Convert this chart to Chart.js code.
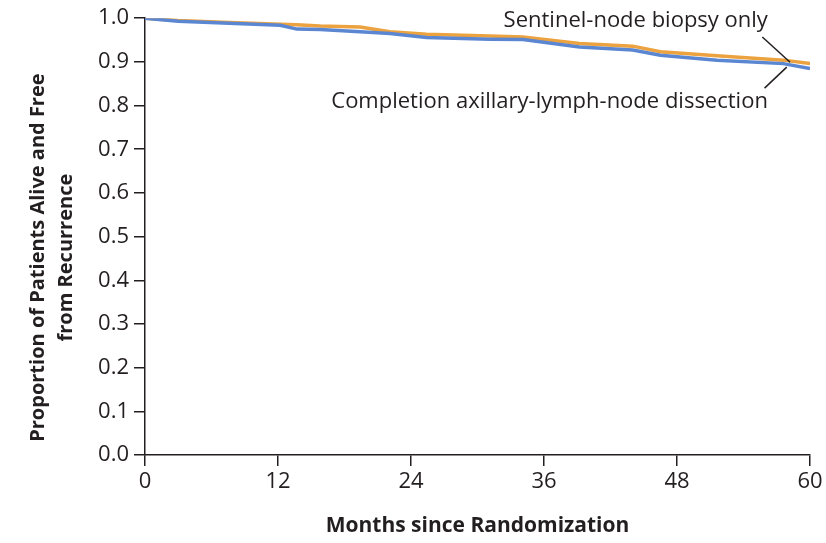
<!DOCTYPE html>
<html>
<head>
<meta charset="utf-8">
<script src="https://cdn.jsdelivr.net/npm/chart.js@4.4.1/dist/chart.umd.min.js"></script>
<style>
html,body{margin:0;padding:0;background:#fff;}
#wrap{width:826px;height:543px;}
</style>
</head>
<body>
<div id="wrap"><canvas id="c" width="826" height="543"></canvas></div>
<script>
// Months since randomization
const months = [0, 3, 7, 12.2, 13.7, 15.8, 19.4, 22.1, 25.4, 31.1, 34.1, 39.2, 44.0, 46.5, 51.6, 57.6, 60];
// Sentinel-node biopsy only
const sentinelOnly = [1.0, 0.995, 0.991, 0.986, 0.985, 0.982, 0.980, 0.969, 0.963, 0.959, 0.957, 0.942, 0.936, 0.923, 0.914, 0.904, 0.896];
// Completion axillary-lymph-node dissection
const dissection = [1.0, 0.993, 0.989, 0.984, 0.975, 0.974, 0.969, 0.965, 0.956, 0.952, 0.951, 0.934, 0.927, 0.915, 0.904, 0.896, 0.885];

const xTicks = [0, 12, 24, 36, 48, 60];
const yTicks = [0.0, 0.1, 0.2, 0.3, 0.4, 0.5, 0.6, 0.7, 0.8, 0.9, 1.0];

const seriesNames = ['Completion axillary-lymph-node dissection', 'Sentinel-node biopsy only'];
const xTitle = 'Months since Randomization';
const yTitleLines = ['Proportion of Patients Alive and Free', 'from Recurrence'];
// annotation labels (text right-aligned at month/proportion)
const labelTexts = ['Sentinel-node biopsy only', 'Completion axillary-lymph-node dissection'];
const labelMonths = [56.2, 56.2];
const labelValues = [0.995, 0.808];
// leader lines: from (month, value) to (month, value)
const leaderFromMonths = [55.7, 55.9];
const leaderFromValues = [0.957, 0.840];
const leaderToMonths = [58.2, 57.9];
const leaderToValues = [0.899, 0.888];

const ink = '#231f20';

const annotationPlugin = {
  id: 'annot',
  afterDatasetsDraw(chart) {
    const ctx = chart.ctx, xs = chart.scales.x, ys = chart.scales.y, ca = chart.chartArea;
    ctx.save();
    ctx.font = '22px "Open Sans"';
    ctx.fillStyle = ink;
    ctx.textAlign = 'right';
    ctx.textBaseline = 'middle';
    for (let i = 0; i < labelTexts.length; i++) {
      ctx.fillText(labelTexts[i], xs.getPixelForValue(labelMonths[i]), ys.getPixelForValue(labelValues[i]));
    }
    ctx.strokeStyle = ink;
    ctx.lineWidth = 1.5;
    for (let i = 0; i < leaderFromMonths.length; i++) {
      ctx.beginPath();
      ctx.moveTo(xs.getPixelForValue(leaderFromMonths[i]), ys.getPixelForValue(leaderFromValues[i]));
      ctx.lineTo(xs.getPixelForValue(leaderToMonths[i]), ys.getPixelForValue(leaderToValues[i]));
      ctx.stroke();
    }
    // y-axis title (two lines, rotated)
    const cy = (ca.top + ca.bottom) / 2 + 21;
    ctx.font = 'bold 20px "Open Sans"';
    ctx.textAlign = 'center';
    ctx.textBaseline = 'middle';
    for (let i = 0; i < yTitleLines.length; i++) {
      ctx.save();
      ctx.translate(ys.left + 38 + i * 28, cy);
      ctx.rotate(-Math.PI / 2);
      ctx.fillText(yTitleLines[i], 0, 0);
      ctx.restore();
    }
    ctx.restore();
  }
};

new Chart(document.getElementById('c'), {
  type: 'line',
  data: {
    datasets: [
      {
        label: seriesNames[0],
        data: months.map((m, i) => ({x: m, y: dissection[i]})),
        borderColor: '#5b87d2',
        borderWidth: 3.5,
        pointRadius: 0,
        tension: 0,
        fill: false
      },
      {
        label: seriesNames[1],
        data: months.map((m, i) => ({x: m, y: sentinelOnly[i]})),
        borderColor: '#eba23f',
        borderWidth: 3.5,
        pointRadius: 0,
        tension: 0,
        fill: false
      }
    ]
  },
  options: {
    responsive: false,
    animation: false,
    layout: {padding: {top: 18, right: 16, bottom: 0, left: 0}},
    plugins: {legend: {display: false}, tooltip: {enabled: false}},
    scales: {
      x: {
        type: 'linear',
        min: 0, max: 60,
        afterBuildTicks(s) { s.ticks = xTicks.map(v => ({value: v})); },
        afterFit(s) { s.height = 88; },
        grid: {display: true, drawOnChartArea: false, drawTicks: true, tickLength: 11, color: ink, lineWidth: 1.5},
        border: {display: true, color: ink, width: 1.5},
        ticks: {color: ink, font: {family: 'Open Sans', size: 22}, padding: 3, maxRotation: 0, autoSkip: false},
        title: {display: true, text: xTitle, color: ink,
          font: {family: 'Open Sans', size: 21, weight: 'bold', lineHeight: 1.2}, padding: {top: 0, bottom: 4}}
      },
      y: {
        type: 'linear',
        min: 0, max: 1,
        afterBuildTicks(s) { s.ticks = yTicks.map(v => ({value: v})); },
        afterFit(s) { s.width = 145; },
        grid: {display: true, drawOnChartArea: false, drawTicks: true, tickLength: 11, color: ink, lineWidth: 1.5},
        border: {display: true, color: ink, width: 1.5},
        ticks: {color: ink, font: {family: 'Open Sans', size: 22}, padding: 5, autoSkip: false,
          callback: v => Number(v).toFixed(1)},
        title: {display: false}
      }
    }
  },
  plugins: [annotationPlugin]
});
</script>
</body>
</html>
